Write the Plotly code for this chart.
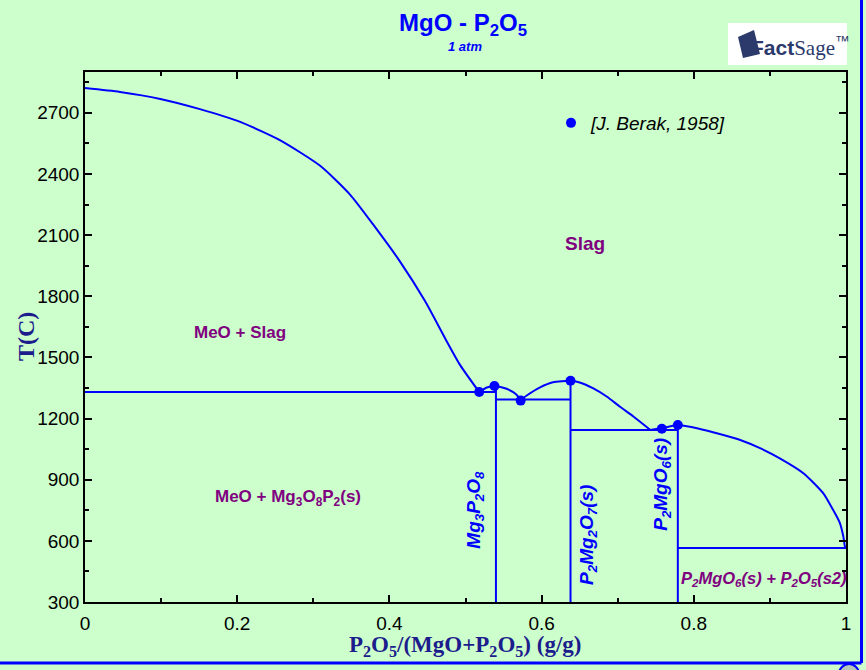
import plotly.graph_objects as go

# ---------------- data ----------------
liq1_x = [0, 0.046, 0.099, 0.151, 0.204, 0.256, 0.309, 0.348, 0.381, 0.414, 0.447, 0.473, 0.493, 0.518]
liq1_T = [2821, 2802, 2768, 2718, 2655, 2566, 2440, 2300, 2140, 1970, 1775, 1595, 1462, 1330]

liq2_x = [0.518, 0.528, 0.538, 0.554, 0.566, 0.5725]
liq2_T = [1330, 1352, 1360, 1346, 1320, 1291]

liq3_x = [0.5725, 0.580, 0.598, 0.615, 0.638, 0.650, 0.668, 0.686, 0.703, 0.721, 0.743]
liq3_T = [1291, 1312, 1353, 1378, 1385, 1377, 1348, 1307, 1258, 1209, 1144]

liq4_x = [0.743, 0.758, 0.779, 0.808, 0.834, 0.861, 0.887, 0.913, 0.944, 0.970, 0.983, 0.992, 0.9965, 0.9987, 1.0]
liq4_T = [1144, 1152, 1168, 1149, 1124, 1095, 1055, 1005, 932, 834, 752, 687, 621, 571, 565]

inv_x = [0, 0.540, None, 0.540, 0.638, None, 0.638, 0.779, None, 0.779, 1.0]
inv_T = [1330, 1330, None, 1294, 1294, None, 1144, 1144, None, 565, 565]

comp_x = [0.540, 0.638, 0.779]
comp_top = [1360, 1385, 1168]
T_min, T_max = 300, 2900

exp_x = [0.518, 0.538, 0.5725, 0.638, 0.758, 0.779]
exp_T = [1330, 1360, 1288, 1385, 1150, 1168]

x_ticks = [0, 0.2, 0.4, 0.6, 0.8, 1]
x_tick_text = ["0", "0.2", "0.4", "0.6", "0.8", "1"]
y_ticks = [300, 600, 900, 1200, 1500, 1800, 2100, 2400, 2700]

BLUE = "#0000ff"
PURPLE = "#800080"
NAVY = "#1c1c8c"

# plot-area geometry in pixels (for paper-coordinate decorations)
L, R, T, B = 85, 846, 72, 602
PW, PH = R - L, B - T
def px(x): return (x - L) / PW
def py(y): return (B - y) / PH

fig = go.Figure()

for xs, ts in [(liq1_x, liq1_T), (liq2_x, liq2_T), (liq3_x, liq3_T), (liq4_x, liq4_T)]:
    fig.add_trace(go.Scatter(x=xs, y=ts, mode="lines", line=dict(color=BLUE, width=2, shape="spline", smoothing=0.6),
                             showlegend=False, hoverinfo="skip"))

fig.add_trace(go.Scatter(x=inv_x, y=inv_T, mode="lines", line=dict(color=BLUE, width=2),
                         showlegend=False, hoverinfo="skip"))

vx, vy = [], []
for cx, ct in zip(comp_x, comp_top):
    vx += [cx, cx, None]
    vy += [T_min, ct, None]
fig.add_trace(go.Scatter(x=vx, y=vy, mode="lines", line=dict(color=BLUE, width=2),
                         showlegend=False, hoverinfo="skip"))

fig.add_trace(go.Scatter(x=exp_x, y=exp_T, mode="markers", marker=dict(color=BLUE, size=10),
                         name="<i>[J. Berak, 1958]</i>", showlegend=True))

ann = []
def label(x, y, text, color=PURPLE, size=17, angle=0, italic=False):
    t = f"<b>{text}</b>"
    if italic:
        t = f"<i>{t}</i>"
    ann.append(dict(x=x, y=y, xref="x", yref="y", text=t, showarrow=False, textangle=angle,
                    xanchor="center", yanchor="middle",
                    font=dict(family="Arial", size=size, color=color)))

label(0.657, 2061, "Slag", size=19)
label(0.204, 1624, "MeO + Slag", size=17)
label(0.267, 810, "MeO + Mg<sub>3</sub>O<sub>8</sub>P<sub>2</sub>(s)", size=17)
label(0.512, 751, "Mg<sub>3</sub>P<sub>2</sub>O<sub>8</sub>", color=BLUE, size=19, angle=-90, italic=True)
label(0.661, 629, "P<sub>2</sub>Mg<sub>2</sub>O<sub>7</sub>(s)", color=BLUE, size=19, angle=-90, italic=True)
label(0.758, 879, "P<sub>2</sub>MgO<sub>6</sub>(s)", color=BLUE, size=19, angle=-90, italic=True)
label(0.892, 413, "P<sub>2</sub>MgO<sub>6</sub>(s) + P<sub>2</sub>O<sub>5</sub>(s2)", size=16.5, italic=True)

def pann(x, y, text, size, color, family="Arial", angle=0):
    ann.append(dict(x=px(x), y=py(y), xref="paper", yref="paper", showarrow=False, text=text,
                    textangle=angle, xanchor="center", yanchor="middle",
                    font=dict(family=family, size=size, color=color)))

pann(463, 24, "<b>MgO - P<sub>2</sub>O<sub>5</sub></b>", 24, BLUE)
pann(465, 47, "<b><i>1 atm</i></b>", 13, BLUE)
pann(465, 646, "<b>P<sub>2</sub>O<sub>5</sub>/(MgO+P<sub>2</sub>O<sub>5</sub>) (g/g)</b>", 23, NAVY, "Liberation Serif")
pann(26, 337, "<b>T(C)</b>", 24, NAVY, "Liberation Serif", -90)
pann(800, 46, "<b>Fact</b><span style='font-family:Liberation Serif'>Sage</span><sup>™</sup>", 21, "#2b3a6b")

shapes = [
    dict(type="rect", xref="paper", yref="paper", x0=px(728), x1=px(847), y0=py(65), y1=py(23),
         fillcolor="white", line=dict(width=0), layer="below"),
    dict(type="path", xref="paper", yref="paper",
         path=f"M {px(738)} {py(37)} L {px(754)} {py(30)} L {px(760)} {py(54)} L {px(743)} {py(58)} Z",
         fillcolor="#2b3a6b", line=dict(width=0)),
    dict(type="line", xref="paper", yref="paper", x0=px(861.5), x1=px(861.5), y0=py(663), y1=py(-5),
         line=dict(color=BLUE, width=3)),
    dict(type="line", xref="paper", yref="paper", x0=px(-5), x1=px(861.5), y0=py(663), y1=py(663),
         line=dict(color=BLUE, width=3)),
    dict(type="circle", xref="paper", yref="paper", x0=px(839), x1=px(859), y0=py(684), y1=py(664),
         fillcolor="#b8c8b8", line=dict(color=BLUE, width=2)),
]

axis_common = dict(showgrid=False, zeroline=False, showline=True, linecolor="black", linewidth=1.5,
                   mirror="ticks", ticks="inside", ticklen=7, tickwidth=1.5, tickcolor="black",
                   tickfont=dict(family="Arial", size=19, color="black"))

fig.update_layout(
    width=866, height=670,
    margin=dict(l=L, r=866 - R, t=T, b=670 - B),
    paper_bgcolor="#ccffcc", plot_bgcolor="#ccffcc",
    xaxis=dict(range=[0, 1], tickvals=x_ticks, ticktext=x_tick_text, ticklabelstandoff=3,
               minor=dict(dtick=0.1, ticks="inside", ticklen=4, tickcolor="black"), **axis_common),
    yaxis=dict(range=[T_min, T_max], tickvals=y_ticks,
               minor=dict(dtick=150, ticks="inside", ticklen=4, tickcolor="black"), **axis_common),
    legend=dict(x=px(551), y=py(123), xanchor="left", yanchor="middle",
                bgcolor="rgba(0,0,0,0)", font=dict(family="Arial", size=19, color="black")),
    annotations=ann, shapes=shapes,
)

fig.write_html("out.html")
